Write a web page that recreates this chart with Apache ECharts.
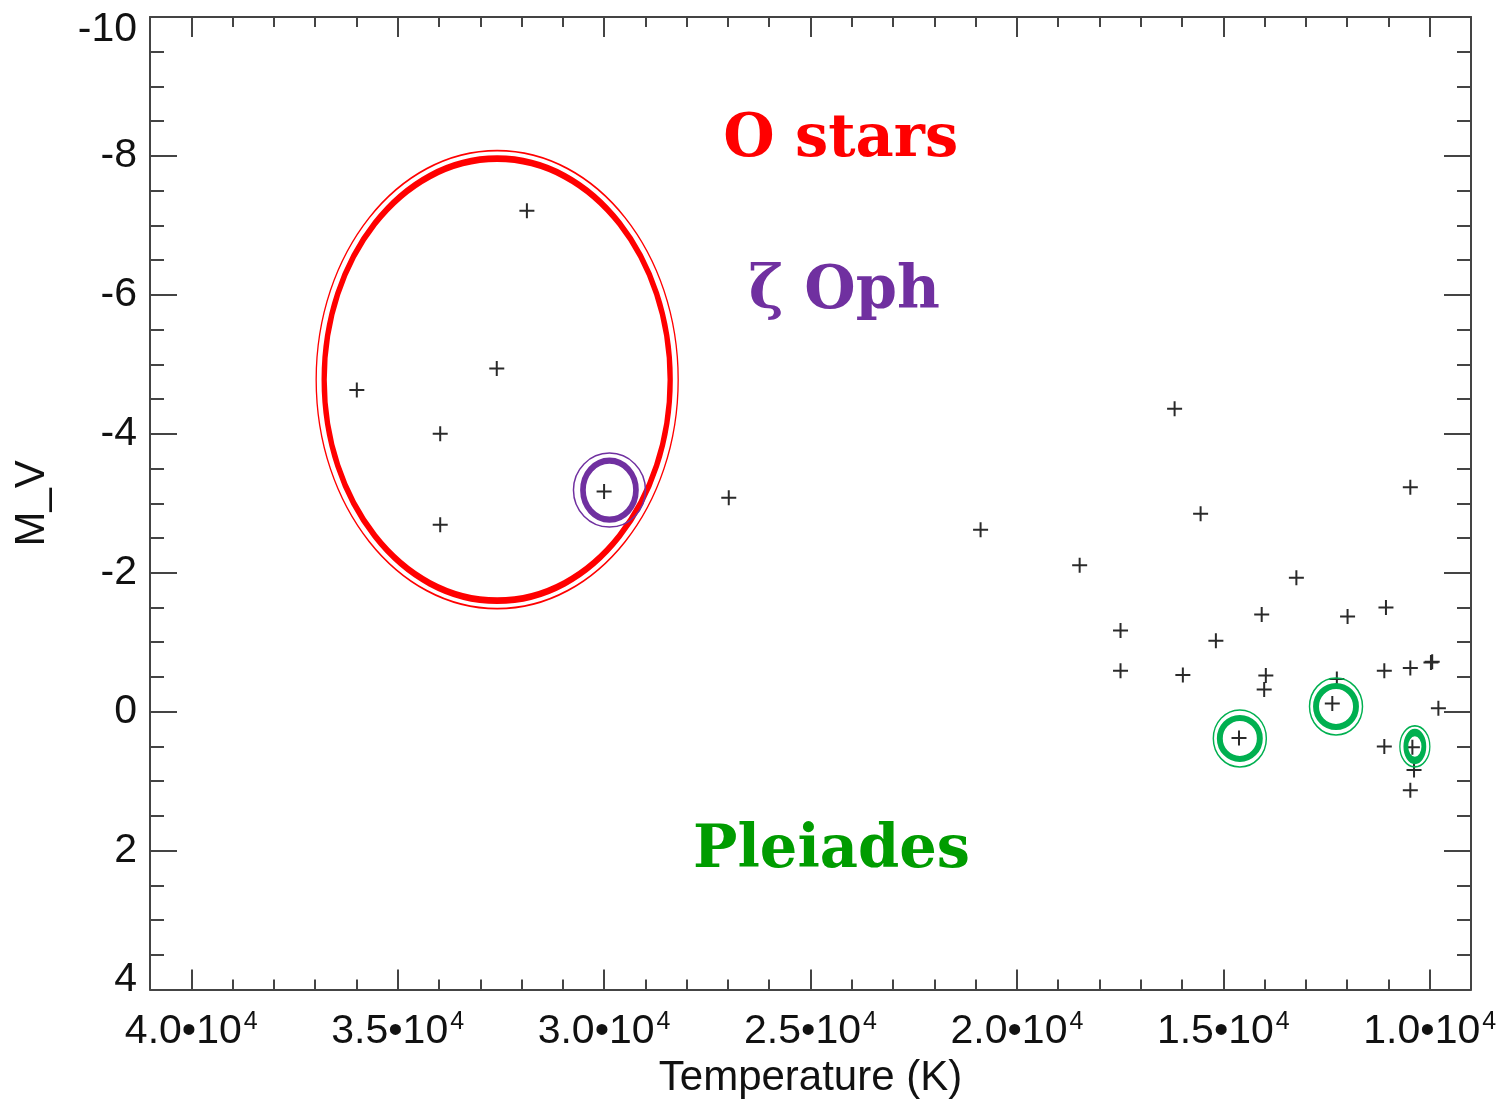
<!DOCTYPE html>
<html><head><meta charset="utf-8">
<script src="https://cdn.jsdelivr.net/npm/echarts@6/dist/echarts.min.js"></script>
<style>html,body{margin:0;padding:0;background:#fff}#c{width:1505px;height:1104px}</style>
</head><body><div id="c"></div>
<script>
// ---- data ----
const temperatures = [31870, 32600, 35990, 33970, 33970, 30000, 26980, 20880, 18480,
  16180, 15550, 10470, 13230, 14070, 11990, 11060, 17490, 15180, 17490, 15980,
  13970, 14010, 12250, 12360, 14620, 11100, 10470, 9970, 9940, 9790, 11100, 10420, 10380, 10470];
const magnitudes = [-7.21, -4.94, -4.63, -4.00, -2.69, -3.17, -3.08, -2.62, -2.11,
  -4.36, -2.85, -3.23, -1.93, -1.40, -1.37, -1.50, -1.17, -1.02, -0.59, -0.53,
  -0.52, -0.32, -0.47, -0.12, 0.38, -0.59, -0.63, -0.71, -0.72, -0.05, 0.50, 0.51, 0.84, 1.13];
const xTickValues = [10000, 15000, 20000, 25000, 30000, 35000, 40000];
const yTickValues = [-10, -8, -6, -4, -2, 0, 2, 4];
// annotation anchors (data coordinates)
const oStarsCenter = [32590, -4.78];
const zetaOphCenter = [29870, -3.19];
const pleiadesTemps = [14600, 12270, 10360];
const pleiadesMags = [0.385, -0.075, 0.50];
const labelTexts = ['O stars', 'ζ Oph', 'Pleiades'];
const labelTemps = [24270, 24180, 24490];
const labelMags = [-8.22, -6.03, 2.01];

// ---- chart ----
const chart = echarts.init(document.getElementById('c'), null, {renderer: 'canvas'});
const AX = '#444';
const FONT = '"Liberation Sans", Arial, Helvetica, sans-serif';
const plus = 'path://M0,6.5h15v2h-15z M6.5,0h2v15h-2z';
const ell = 'path://M50,0 C77.6,0 100,22.4 100,50 C100,77.6 77.6,100 50,100 C22.4,100 0,77.6 0,50 C0,22.4 22.4,0 50,0 Z';

function baseX(pos, showLabel) {
  return {
    type: 'value', position: pos, inverse: true, min: 9000, max: 41000, splitNumber: 5,
    axisLine: {show: true, onZero: false, lineStyle: {color: AX, width: 2}},
    axisTick: {show: true, inside: true, length: 20, lineStyle: {color: AX, width: 2}},
    minorTick: {show: true, splitNumber: 5, length: 10, lineStyle: {color: AX, width: 2}},
    splitLine: {show: false},
    axisLabel: showLabel ? {
      margin: 20,
      formatter: v => xTickValues.indexOf(v) >= 0 ? '{a|' + (v / 1e4).toFixed(1) + '•10}{s|4}' : '',
      rich: {
        a: {fontSize: 41, fontFamily: FONT, color: '#111', lineHeight: 44},
        s: {fontSize: 25, fontFamily: FONT, color: '#111', lineHeight: 24, verticalAlign: 'top', padding: [0, 0, 0, 2]}
      }
    } : {show: false}
  };
}
function baseY(pos, showLabel) {
  return {
    type: 'value', position: pos, inverse: true, min: -10, max: 4, interval: 2,
    axisLine: {show: true, onZero: false, lineStyle: {color: AX, width: 2}},
    axisTick: {show: true, inside: true, length: 27, lineStyle: {color: AX, width: 2}},
    minorTick: {show: true, splitNumber: 4, length: 14, lineStyle: {color: AX, width: 2}},
    splitLine: {show: false},
    axisLabel: showLabel ? {
      margin: 13,
      formatter: v => {
        if (yTickValues.indexOf(v) < 0) return '';
        if (v === yTickValues[0]) return '{t|' + v + '}';
        if (v === yTickValues[yTickValues.length - 1]) return '{b|' + v + '}';
        return '{n|' + v + '}';
      },
      rich: {
        n: {fontSize: 41, fontFamily: FONT, color: '#111'},
        t: {fontSize: 41, fontFamily: FONT, color: '#111', padding: [26, 0, 0, 0]},
        b: {fontSize: 41, fontFamily: FONT, color: '#111', padding: [0, 0, 20, 0]}
      }
    } : {show: false}
  };
}

const xBottom = baseX('bottom', true);
Object.assign(xBottom, {name: 'Temperature (K)', nameLocation: 'middle', nameGap: 64,
  nameTextStyle: {fontSize: 42, fontFamily: FONT, color: '#111'}});
const yLeft = baseY('left', true);
Object.assign(yLeft, {name: 'M_V', nameLocation: 'middle', nameGap: 97, nameRotate: 90,
  nameTextStyle: {fontSize: 42, fontFamily: FONT, color: '#111'}});

function ring(center, size, color, width) {
  return {value: center, symbolSize: size,
    itemStyle: {color: 'rgba(0,0,0,0)', borderColor: color, borderWidth: width, opacity: 1}};
}
const RED = '#FF0000', PUR = '#7030A0', GRN = '#00B050';
const pleiadesSizesThick = [[40, 41], [40, 41], [18, 28]];
const pleiadesSizesThin = [[53, 57], [53, 57], [30, 41]];

const ringData = [
  ring(oStarsCenter, [346, 442], RED, 6),
  ring(oStarsCenter, [362, 458], RED, 1.5),
  ring(zetaOphCenter, [53, 59], PUR, 6),
  ring(zetaOphCenter, [72, 74], PUR, 1.5)
];
pleiadesTemps.forEach((t, i) => {
  ringData.push(ring([t, pleiadesMags[i]], pleiadesSizesThick[i], GRN, 6));
  ringData.push(ring([t, pleiadesMags[i]], pleiadesSizesThin[i], GRN, 1.5));
});

const labelColors = ['#FF0000', '#7030A0', '#009C00'];
const textData = labelTexts.map((s, i) => ({
  value: [labelTemps[i], labelMags[i]], name: s,
  label: {show: true, position: 'inside', formatter: '{b}', color: labelColors[i], opacity: 1,
    fontFamily: '"DejaVu Serif", Georgia, serif', fontWeight: 'bold', fontSize: 59}
}));

chart.setOption({
  animation: false,
  backgroundColor: '#fff',
  grid: {left: 150, right: 34, top: 17, bottom: 111, containLabel: false},
  xAxis: [xBottom, baseX('top', false)],
  yAxis: [yLeft, baseY('right', false)],
  series: [
    {type: 'scatter', data: temperatures.map((t, i) => [t, magnitudes[i]]), symbol: plus, symbolSize: 15,
      itemStyle: {color: '#2a2a2a', opacity: 1}, silent: true, z: 3},
    {type: 'scatter', data: ringData, symbol: ell, silent: true, z: 4, itemStyle: {opacity: 1}},
    {type: 'scatter', data: textData, symbolSize: 0, silent: true, z: 5, itemStyle: {opacity: 1}}
  ]
});
</script></body></html>
